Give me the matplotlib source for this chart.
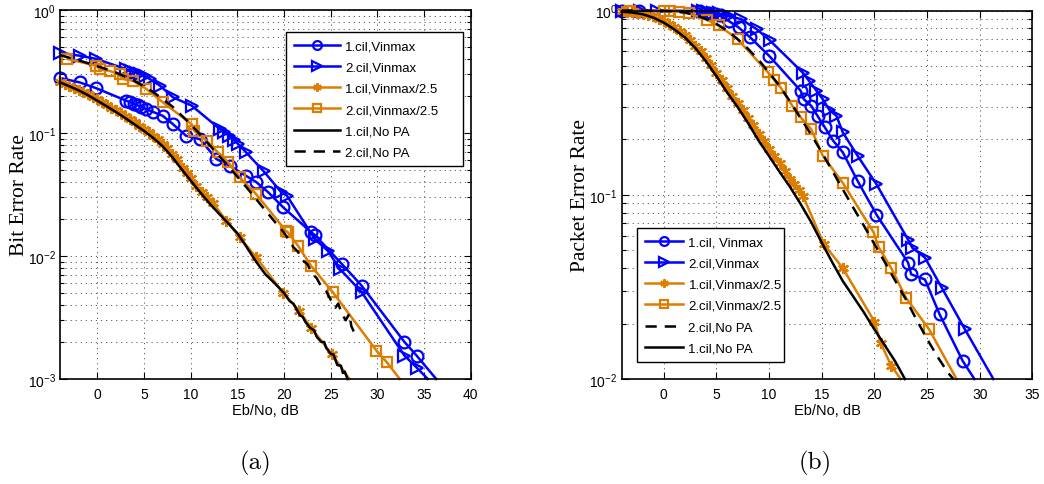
import matplotlib
matplotlib.use("Agg")
import matplotlib.pyplot as plt
from matplotlib.ticker import LogLocator, MultipleLocator, NullFormatter

plt.rcParams['font.family'] = ['Liberation Sans', 'DejaVu Sans']
plt.rcParams['mathtext.fontset'] = 'custom'
plt.rcParams['mathtext.rm'] = 'Liberation Sans'
plt.rcParams['mathtext.it'] = 'Liberation Sans:italic'
plt.rcParams['mathtext.bf'] = 'Liberation Sans:bold'

BLUE = '#0000ff'
ORANGE = '#de7d00'

# ---------------- (a) Bit error rate ----------------
ber_c1_vmax_x = [-4, -1.9, -0.1, 3.1, 3.5, 3.9, 4.3, 4.7, 5.2, 6.0, 7.0, 8.1, 9.5, 11.0,
                 12.75, 14.2, 15.9, 17.0, 18.3, 19.9, 22.9, 23.3, 26.2, 28.3, 32.9, 34.2, 36.3]
ber_c1_vmax_y = [0.28, 0.258, 0.231, 0.183, 0.178, 0.173, 0.168, 0.163, 0.157, 0.148, 0.138,
                 0.118, 0.095, 0.089, 0.0615, 0.054, 0.045, 0.040, 0.033, 0.0249, 0.0156,
                 0.0148, 0.0086, 0.00575, 0.0020, 0.00155, 0.001]

ber_c2_vmax_x = [-4, -1.9, -0.1, 3.1, 3.6, 4.1, 4.6, 5.1, 5.6, 6.7, 8.1, 10.1, 13.1, 13.6,
                 14.1, 14.6, 15.1, 15.9, 17.8, 19.7, 20.3, 23.3, 24.7, 26.0, 28.3, 32.9, 34.2, 35.4]
ber_c2_vmax_y = [0.45, 0.425, 0.40, 0.33, 0.32, 0.31, 0.30, 0.29, 0.275, 0.243, 0.195, 0.167,
                 0.108, 0.102, 0.095, 0.088, 0.081, 0.070, 0.049, 0.033, 0.031, 0.0137, 0.011,
                 0.0078, 0.0051, 0.00155, 0.00124, 0.001]

ber_c1_v25_x = [-4, -3.5, -3, -2.5, -2, -1.5, -1, -0.5, 0, 0.5, 1, 1.5, 2, 2.5, 3, 3.5, 4,
                4.5, 5, 5.5, 6, 6.5, 7, 7.5, 8, 8.5, 9.2, 9.6, 10, 10.6, 11.2, 11.7, 12.4,
                13.8, 15.25, 17.0, 19.9, 21.6, 22.9, 25.1, 27.0]
ber_c1_v25_y = [0.262, 0.252, 0.243, 0.234, 0.225, 0.216, 0.207, 0.197, 0.188, 0.179, 0.170,
                0.161, 0.153, 0.145, 0.137, 0.129, 0.122, 0.115, 0.108, 0.102, 0.095, 0.089,
                0.082, 0.075, 0.068, 0.062, 0.052, 0.047, 0.043, 0.037, 0.033, 0.030, 0.027,
                0.0194, 0.0142, 0.0098, 0.0050, 0.0036, 0.0026, 0.0016, 0.001]

ber_c2_v25_x = [-3.2, -0.1, 0.25, 1.3, 2.4, 2.7, 3.8, 5.25, 7.0, 10.1, 10.4, 11.7, 12.9, 14.0,
                15.25, 17.0, 20.2, 20.4, 21.5, 22.9, 25.2, 29.9, 31.0, 32.4]
ber_c2_v25_y = [0.40, 0.352, 0.33, 0.32, 0.30, 0.275, 0.266, 0.228, 0.178, 0.118, 0.104,
                0.0866, 0.0697, 0.058, 0.0436, 0.0319, 0.016, 0.0156, 0.0121, 0.0083, 0.0051,
                0.0017, 0.00137, 0.001]

ber_c1_nopa_x = [-4, -3, -2, -1, 0, 1, 2, 3, 4, 5, 6, 7, 8, 9, 10, 11, 12, 13, 14, 15, 16,
                 17, 18, 19, 20, 20.6, 21, 21.7, 22.0, 22.3, 22.8, 23.2, 23.5, 24.0, 24.3,
                 24.5, 25.0, 25.3, 25.7, 26.1, 26.3, 26.5, 26.8]
ber_c1_nopa_y = [0.258, 0.24, 0.222, 0.203, 0.183, 0.165, 0.148, 0.132, 0.117, 0.104, 0.091,
                 0.078, 0.064, 0.051, 0.041, 0.033, 0.0268, 0.0222, 0.0185, 0.0153, 0.0118,
                 0.0090, 0.0071, 0.0060, 0.0050, 0.0043, 0.0041, 0.0033, 0.0032, 0.0029,
                 0.0026, 0.0025, 0.0022, 0.0020, 0.0020, 0.0018, 0.0016, 0.00158, 0.0013,
                 0.00128, 0.00112, 0.00115, 0.001]

ber_c2_nopa_x = [-4, -2, 0, 2, 4, 6, 8, 10, 12, 14, 16, 18, 19, 20, 21, 21.5, 22, 22.5, 23,
                 23.5, 24, 24.5, 25, 25.5, 25.8, 26.2, 26.6, 27.0, 27.2, 27.5, 27.7]
ber_c2_nopa_y = [0.43, 0.39, 0.35, 0.31, 0.265, 0.215, 0.165, 0.118, 0.080, 0.054, 0.036,
                 0.0235, 0.019, 0.0155, 0.0118, 0.0108, 0.0092, 0.0086, 0.0072, 0.0066,
                 0.0056, 0.0052, 0.0044, 0.0038, 0.0041, 0.0034, 0.0030, 0.0034, 0.0027,
                 0.0024, 0.0026]

# ---------------- (b) Packet error rate ----------------
per_c1_vmax_x = [-4, -2.4, 3.3, 4.3, 5.3, 6.2, 7.1, 8.2, 10.0, 13.0, 13.3, 14.0, 14.6, 15.3,
                 16.1, 17.0, 18.4, 20.2, 23.2, 23.5, 24.8, 26.2, 28.4, 29.5]
per_c1_vmax_y = [0.995, 0.995, 0.99, 0.975, 0.94, 0.875, 0.81, 0.715, 0.568, 0.367, 0.33,
                 0.304, 0.268, 0.232, 0.196, 0.17, 0.119, 0.078, 0.0428, 0.037, 0.0347,
                 0.0224, 0.0125, 0.01]

per_c2_vmax_x = [-4, -2.3, -0.6, 3.2, 3.7, 4.2, 4.7, 5.2, 5.7, 6.2, 7.3, 8.85, 10.05, 13.2,
                 13.8, 14.5, 15.1, 15.7, 16.4, 17.0, 18.4, 20.2, 23.2, 23.6, 24.8, 26.4, 28.6, 31.3]
per_c2_vmax_y = [0.998, 0.998, 0.998, 0.995, 0.99, 0.985, 0.975, 0.965, 0.95, 0.93, 0.90,
                 0.79, 0.69, 0.46, 0.415, 0.367, 0.33, 0.29, 0.268, 0.218, 0.163, 0.114,
                 0.057, 0.0516, 0.0456, 0.0313, 0.0186, 0.01]

per_c1_v25_x = [-4, -3.5, -3, -2.5, -2, -1.5, -1, -0.5, 0, 0.5, 1, 1.5, 2, 2.5, 3, 3.5, 4,
                4.5, 5, 5.5, 6, 6.5, 7, 7.5, 8, 8.5, 9, 9.5, 10, 10.5, 11, 11.5, 12, 12.4,
                12.8, 13.2, 15.2, 17.0, 20.0, 20.6, 21.6, 22.5]
per_c1_v25_y = [0.99, 0.985, 0.98, 0.97, 0.96, 0.945, 0.93, 0.905, 0.875, 0.845, 0.81, 0.77,
                0.735, 0.69, 0.645, 0.60, 0.55, 0.505, 0.46, 0.42, 0.38, 0.345, 0.315, 0.29,
                0.26, 0.24, 0.215, 0.196, 0.178, 0.163, 0.148, 0.135, 0.122, 0.114, 0.106,
                0.099, 0.054, 0.040, 0.0205, 0.0157, 0.0118, 0.01]

per_c2_v25_x = [-3.2, 0.0, 0.6, 1.4, 2.4, 4.1, 5.2, 7.0, 9.85, 10.5, 11.1, 12.2, 13.0, 14.0,
                15.1, 17.0, 19.9, 20.4, 21.6, 23.0, 25.2, 27.8]
per_c2_v25_y = [0.995, 0.995, 0.99, 0.985, 0.965, 0.89, 0.83, 0.70, 0.465, 0.42, 0.382,
                0.304, 0.263, 0.227, 0.163, 0.116, 0.063, 0.052, 0.040, 0.0276, 0.0186, 0.01]

per_c1_nopa_x = [-4, -3, -2, -1, 0, 1, 2, 3, 4, 5, 6, 7, 8, 9, 10, 11, 12, 13, 14, 15, 16,
                 17, 18, 19, 20, 21, 22, 22.9]
per_c1_nopa_y = [0.985, 0.975, 0.955, 0.915, 0.86, 0.79, 0.715, 0.625, 0.53, 0.44, 0.36,
                 0.30, 0.245, 0.197, 0.162, 0.133, 0.11, 0.089, 0.071, 0.055, 0.043, 0.034,
                 0.028, 0.023, 0.0186, 0.0152, 0.0124, 0.01]

per_c2_nopa_x = [-4, -2, 0, 1, 2, 3, 4, 5, 6, 7, 8, 9, 10, 11, 12, 13, 14, 15, 16, 17, 18,
                 19, 20, 21, 22, 23, 24, 25, 26, 27, 27.5]
per_c2_nopa_y = [1.0, 1.0, 0.995, 0.99, 0.975, 0.945, 0.90, 0.845, 0.78, 0.70, 0.62, 0.54,
                 0.46, 0.39, 0.32, 0.26, 0.212, 0.17, 0.135, 0.107, 0.085, 0.068, 0.054,
                 0.043, 0.034, 0.027, 0.021, 0.0165, 0.0132, 0.0108, 0.01]

fig = plt.figure(figsize=(10.44, 4.85), dpi=100)
ax1 = fig.add_axes([0.0575, 0.2165, 0.3934, 0.7608])
ax2 = fig.add_axes([0.5955, 0.2165, 0.3933, 0.7597])

LW = 1.8
mk_common = dict(mfc='none', mew=1.6, lw=LW, clip_on=False, markevery=slice(0, -1))


def draw(ax, c1v, c2v, c1h, c2h, c1n, c2n):
    h = {}
    h['c1v'], = ax.plot(*c1v, color=BLUE, marker='o', ms=8.5, **mk_common)
    h['c2v'], = ax.plot(*c2v, color=BLUE, marker='>', ms=9, **mk_common)
    h['c1h'], = ax.plot(*c1h, color=ORANGE, marker=(6, 2, 0), ms=8, **mk_common)
    h['c2h'], = ax.plot(*c2h, color=ORANGE, marker='s', ms=7.2, **mk_common)
    h['c1n'], = ax.plot(*c1n, color='black', lw=1.8, clip_on=False)
    h['c2n'], = ax.plot(*c2n, color='black', lw=1.8, dashes=(4.5, 3.2), clip_on=False)
    return h


def style(ax, xmax, ymin):
    ax.set_yscale('log')
    ax.set_xlim(-4, xmax)
    ax.set_ylim(ymin, 1)
    ax.xaxis.set_major_locator(MultipleLocator(5))
    ax.yaxis.set_major_locator(LogLocator(base=10, numticks=10))
    ax.yaxis.set_minor_locator(LogLocator(base=10, subs=range(2, 10), numticks=20))
    ax.yaxis.set_minor_formatter(NullFormatter())
    ax.tick_params(which='both', direction='in', top=True, right=True, labelsize=10,
                   width=0.8, color='black')
    ax.tick_params(which='major', length=5)
    ax.tick_params(which='minor', length=3)
    ax.tick_params(axis='x', pad=6)
    ax.tick_params(axis='y', pad=3)
    grid_kw = dict(color='0.35', lw=0.7, linestyle=(0, (1.2, 4.0)))
    ax.grid(True, which='major', axis='both', **grid_kw)
    ax.grid(True, which='minor', axis='y', **grid_kw)
    ax.set_axisbelow(True)
    for s in ax.spines.values():
        s.set_linewidth(1.2)
    ax.set_xlabel('Eb/No, dB', fontsize=10.5)
    ax.xaxis.set_label_coords(0.5, -0.065)


ha = draw(ax1, (ber_c1_vmax_x, ber_c1_vmax_y), (ber_c2_vmax_x, ber_c2_vmax_y),
          (ber_c1_v25_x, ber_c1_v25_y), (ber_c2_v25_x, ber_c2_v25_y),
          (ber_c1_nopa_x, ber_c1_nopa_y), (ber_c2_nopa_x, ber_c2_nopa_y))
style(ax1, 40, 1e-3)
ax1.set_ylabel('Bit Error Rate', family='Liberation Serif', fontsize=15.5)
ax1.yaxis.set_label_coords(-0.075, 0.5)

hb = draw(ax2, (per_c1_vmax_x, per_c1_vmax_y), (per_c2_vmax_x, per_c2_vmax_y),
          (per_c1_v25_x, per_c1_v25_y), (per_c2_v25_x, per_c2_v25_y),
          (per_c1_nopa_x, per_c1_nopa_y), (per_c2_nopa_x, per_c2_nopa_y))
style(ax2, 35, 1e-2)
ax2.set_ylabel('Packet Error Rate', family='Liberation Serif', fontsize=15.5)
ax2.yaxis.set_label_coords(-0.077, 0.5)

leg_kw = dict(fontsize=9.5, frameon=True, fancybox=False, framealpha=1, edgecolor='black',
              numpoints=1, handletextpad=0.38, borderpad=0.6, labelspacing=0.68,
              markerscale=0.75, borderaxespad=0, mode='expand')

l1 = ax1.legend([ha['c1v'], ha['c2v'], ha['c1h'], ha['c2h'], ha['c1n'], ha['c2n']],
                ['1.cil,Vinmax', '2.cil,Vinmax', '1.cil,Vinmax/2.5', '2.cil,Vinmax/2.5',
                 '1.cil,No PA', '2.cil,No PA'],
                loc='upper left', bbox_to_anchor=(0.5496, 0.5, 0.4324, 0.4396),
                handlelength=3.5, **leg_kw)
l2 = ax2.legend([hb['c1v'], hb['c2v'], hb['c1h'], hb['c2h'], hb['c2n'], hb['c1n']],
                ['1.cil, Vinmax', '2.cil,Vinmax', '1.cil,Vinmax/2.5', '2.cil,Vinmax/2.5',
                 '2.cil,No PA', '1.cil,No PA'],
                loc='lower left', bbox_to_anchor=(0.038, 0.0453, 0.3573, 0.5),
                handlelength=2.9, **leg_kw)
for leg in (l1, l2):
    leg.get_frame().set_linewidth(1.0)
    leg.set_zorder(10)

fig.text(255 / 1044, 1 - 463 / 485, '(a)', family='cmr10', fontsize=18,
         ha='center', va='center')
fig.text(815 / 1044, 1 - 463 / 485, '(b)', family='cmr10', fontsize=18,
         ha='center', va='center')

fig.savefig('out.png', dpi=100)
